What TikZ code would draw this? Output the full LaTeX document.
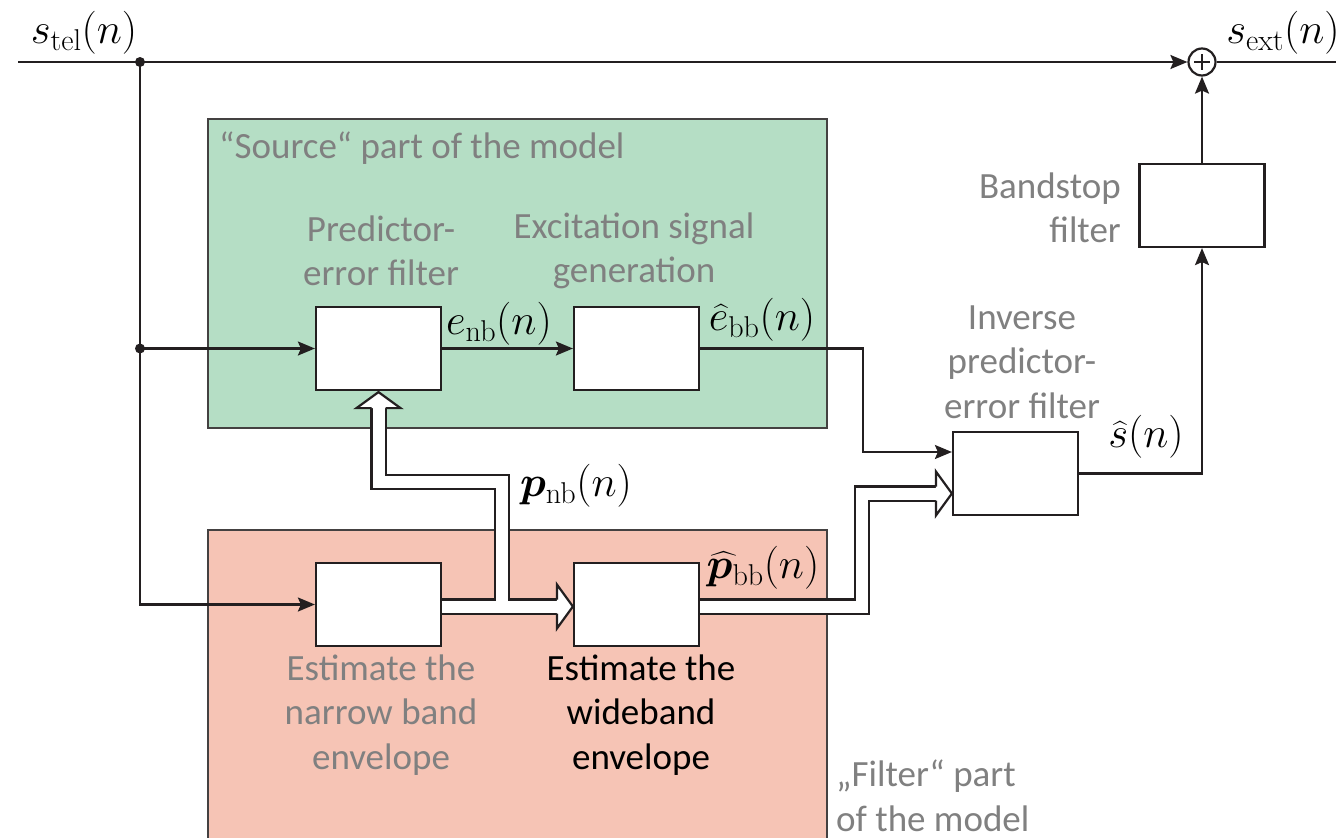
\RequirePackage{fix-cm}
\documentclass[tikz,border=0pt]{standalone}
\usepackage{amsmath,bm}
\usepackage[no-math]{fontspec}
\newfontfamily\labelfont{Carlito}
\usetikzlibrary{arrows.meta,calc}

\definecolor{srcgreen}{RGB}{181,222,197}
\definecolor{filtpink}{RGB}{246,196,181}
\definecolor{labelgray}{RGB}{128,128,128}
\definecolor{ink}{RGB}{35,31,32}

\begin{document}
\begin{tikzpicture}[x=1pt,y=-1pt,
  blk/.style={draw=ink,fill=white,line width=2.2pt,minimum width=125pt,minimum height=83pt,inner sep=0pt},
  region/.style={draw=ink!85,line width=1.8pt,inner sep=0pt},
  sig/.style={draw=ink,line width=2.2pt,-{Stealth[length=17pt,width=14pt,inset=3pt]}},
  wire/.style={draw=ink,line width=2.2pt},
  dot/.style={circle,fill=ink,inner sep=0pt,minimum size=10pt},
  txt/.style={font=\labelfont\fontsize{37}{44.5}\selectfont,text=labelgray,align=center,inner sep=0pt},
  mlab/.style={font=\fontsize{43}{46}\selectfont,inner sep=0pt},
  chanout/.style={draw=ink,line width=16.4pt,line join=miter},
  chanin/.style={draw=white,line width=12pt,line join=miter},
  hollowhead/.pic={
    \fill[white] (0,-22) -- (16,0) -- (0,22) -- cycle;
    \draw[ink,line width=2.2pt,line join=miter] (0,-7) -- (0,-22) -- (16,0) -- (0,22) -- (0,7);
  }]
\useasboundingbox (0,0) rectangle (1336,838);
\clip (0,0) rectangle (1336,838);

% the two halves of the source-filter model
\node[region,fill=srcgreen,minimum width=619pt,minimum height=309pt] (src) at (517.5,273.5) {};
\node[region,fill=filtpink,minimum width=619pt,minimum height=330pt] (flt) at (517.5,695) {};

\node[txt,anchor=west] (srclab) at (219,148) {“Source“ part of the model};
\node[txt,anchor=west,align=left] (fltlab) at (836,796) {„Filter“ part\\of the model};

% processing blocks
\node[blk] (pef) at (378.5,348.5) {};
\node[blk] (exc) at (636.5,348.5) {};
\node[blk] (nbe) at (378.5,604.5) {};
\node[blk] (wbe) at (636.5,604.5) {};
\node[blk] (inv) at (1015.5,473.5) {};
\node[blk] (bs)  at (1202,205.5) {};
\node[draw=ink,line width=2.2pt,circle,minimum size=27pt,inner sep=0pt,fill=white] (sum) at (1202,62) {};
\draw[wire] ($(sum.center)+(-8,0)$) -- ($(sum.center)+(8,0)$);
\draw[wire] ($(sum.center)+(0,-8)$) -- ($(sum.center)+(0,8)$);

% block captions
\node[txt] (pefcap) at (381,251) {Predictor-\\error filter};
\node[txt] (exccap) at (634,251) {Excitation signal\\generation};
\node[txt] (invcap) at (1022,362) {Inverse\\predictor-\\error filter};
\node[txt,anchor=east,align=right] (bscap) at (1121,208) {Bandstop\\filter};
\node[txt] (nbecap) at (381,715) {Estimate the\\narrow band\\envelope};
\node[txt,text=black] (wbecap) at (641,715) {Estimate the\\wideband\\envelope};

% signal names
\node[mlab] (stel) at (84,33) {$s_{\mathrm{tel}}(n)$};
\node[mlab] (sext) at (1283,33) {$s_{\mathrm{ext}}(n)$};
\node[mlab] (enb) at (499,324) {$e_{\mathrm{nb}}(n)$};
\node[mlab] (ebb) at (762,320) {$\widehat{e}_{\mathrm{bb}}(n)$};
\node[mlab] (pnb) at (576,486) {$\bm{p}_{\mathrm{nb}}(n)$};
\node[mlab] (pbb) at (763,568) {$\widehat{\bm{p}}_{\mathrm{bb}}(n)$};
\node[mlab] (shat) at (1146,437) {$\widehat{s}(n)$};

% scalar signal paths
\coordinate (in) at (18,62);
\coordinate (out) at (1340,62);
\node[dot] (j1) at (140,62) {};
\node[dot] (j2) at (140,348.5) {};
\draw[sig] (in) -- (sum.west);
\draw[wire] (sum.east) -- (out);
\draw[sig] (j1.center) |- (nbe.west);
\draw[sig] (j2.center) -- (pef.west);
\draw[sig] (pef.east) -- (exc.west);
\draw[sig] (exc.east) -- ++(163,0) |- ($(inv.west)+(0,-21.5)$);
\draw[sig] (inv.east) -| (bs.south);
\draw[sig] (bs.north) -- (sum.south);

% parameter vector paths (hollow double arrows)
\coordinate (nbo) at ($(nbe.east)+(0,2)$);
\coordinate (wbo) at ($(wbe.east)+(0,2)$);
\coordinate (pefin) at ($(pef.south)+(0,17)$);
\coordinate (wbein) at ($(wbe.west)+(-16,2)$);
\coordinate (invin) at ($(inv.west)+(-16,20)$);
\foreach \sty in {chanout,chanin}{
  \draw[\sty] (nbo) -| (502,482) -| (pefin);
  \draw[\sty] (nbo) -- (wbein);
  \draw[\sty] (wbo) -| (862,493.5) -- (invin);
}
\pic[rotate=90] at (pefin) {hollowhead};
\pic at (wbein) {hollowhead};
\pic at (invin) {hollowhead};
\end{tikzpicture}
\end{document}
